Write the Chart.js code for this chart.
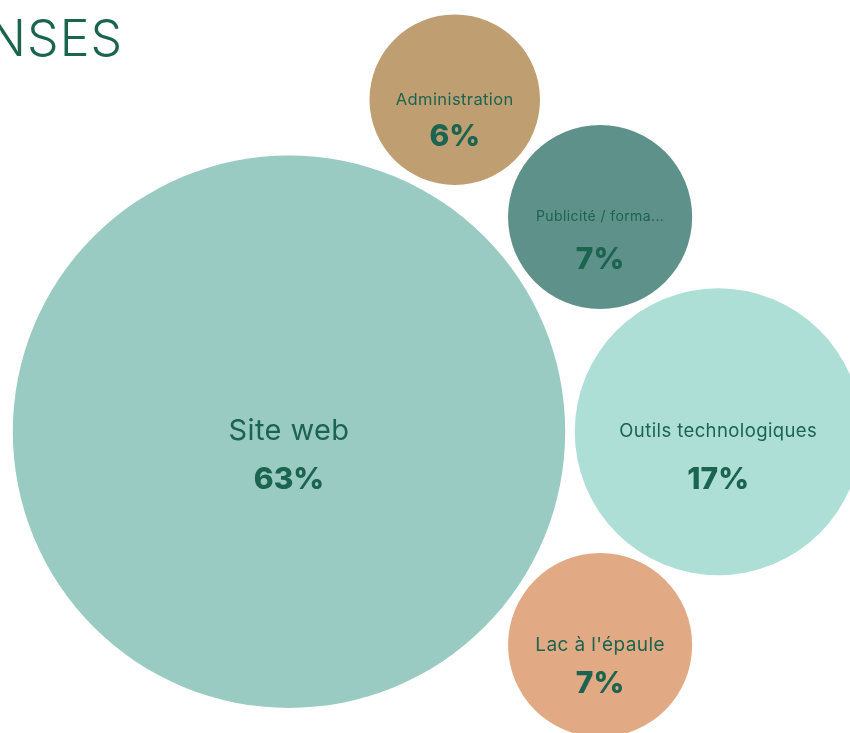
<!DOCTYPE html>
<html lang="fr">
<head>
    <meta charset="UTF-8">
    <title>Dépenses</title>
    <script src="https://cdn.jsdelivr.net/npm/chart.js"></script>
    <style>
        html, body { margin: 0; padding: 0; background: #fff; overflow: hidden; }
        .wrap { position: relative; width: 850px; height: 733px; }
        .title {
            position: absolute; top: 8px; left: -377px; width: 500px;
            text-align: right; font-family: Inter, sans-serif; font-weight: 300;
            font-size: 50px; color: #1b6450; letter-spacing: 1px; z-index: 2;
        }
        canvas { position: absolute; left: 0; top: 0; }
    </style>
</head>
<body>
    <div class="wrap">
        <div class="title">DÉPENSES</div>
        <canvas id="bubbleChart" width="850" height="733"></canvas>
    </div>

    <script>
        // Data
        const labels = ['Site web', 'Administration', 'Publicité / forma...', 'Outils technologiques', "Lac à l'épaule"];
        const percents = [63, 6, 7, 17, 7];
        const posX = [34.0, 53.5, 70.6, 84.5, 70.6];
        const posY = [41.1, 86.4, 70.4, 41.1, 12.0];

        // Styles
        const colors = ['#9acbc2', '#bf9e72', '#5e9189', '#aedfd7', '#e2aa84'];
        const labelSizes = [29, 16.5, 14, 18.5, 19];
        const pctOffsets = [48, 37, 43, 48, 39];
        const textColor = '#1b6450';
        const radiusScale = 34.8; // px per sqrt(percent)

        const bubbleLabels = {
            id: 'bubbleLabels',
            afterDatasetsDraw(chart) {
                const c = chart.ctx;
                const meta = chart.getDatasetMeta(0);
                c.save();
                c.textAlign = 'center';
                c.textBaseline = 'middle';
                c.fillStyle = textColor;
                meta.data.forEach((el, i) => {
                    c.letterSpacing = '0.4px';
                    c.font = '400 ' + labelSizes[i] + 'px Inter, sans-serif';
                    c.fillText(labels[i], el.x, el.y);
                    c.letterSpacing = '0px';
                    c.font = '800 30px Inter, sans-serif';
                    c.fillText(percents[i] + '%', el.x, el.y + pctOffsets[i]);
                });
                c.restore();
            }
        };

        new Chart(document.getElementById('bubbleChart'), {
            type: 'bubble',
            data: {
                labels: labels,
                datasets: [{
                    data: percents.map((p, i) => ({ x: posX[i], y: posY[i], r: radiusScale * Math.sqrt(p) })),
                    backgroundColor: colors,
                    borderWidth: 0,
                    clip: false
                }]
            },
            options: {
                responsive: false,
                animation: false,
                events: [],
                layout: { padding: 0, autoPadding: false },
                plugins: { legend: { display: false }, tooltip: { enabled: false } },
                scales: {
                    x: { type: 'linear', min: 0, max: 100, display: false },
                    y: { type: 'linear', min: 0, max: 100, display: false }
                }
            },
            plugins: [bubbleLabels]
        });
    </script>
</body>
</html>
